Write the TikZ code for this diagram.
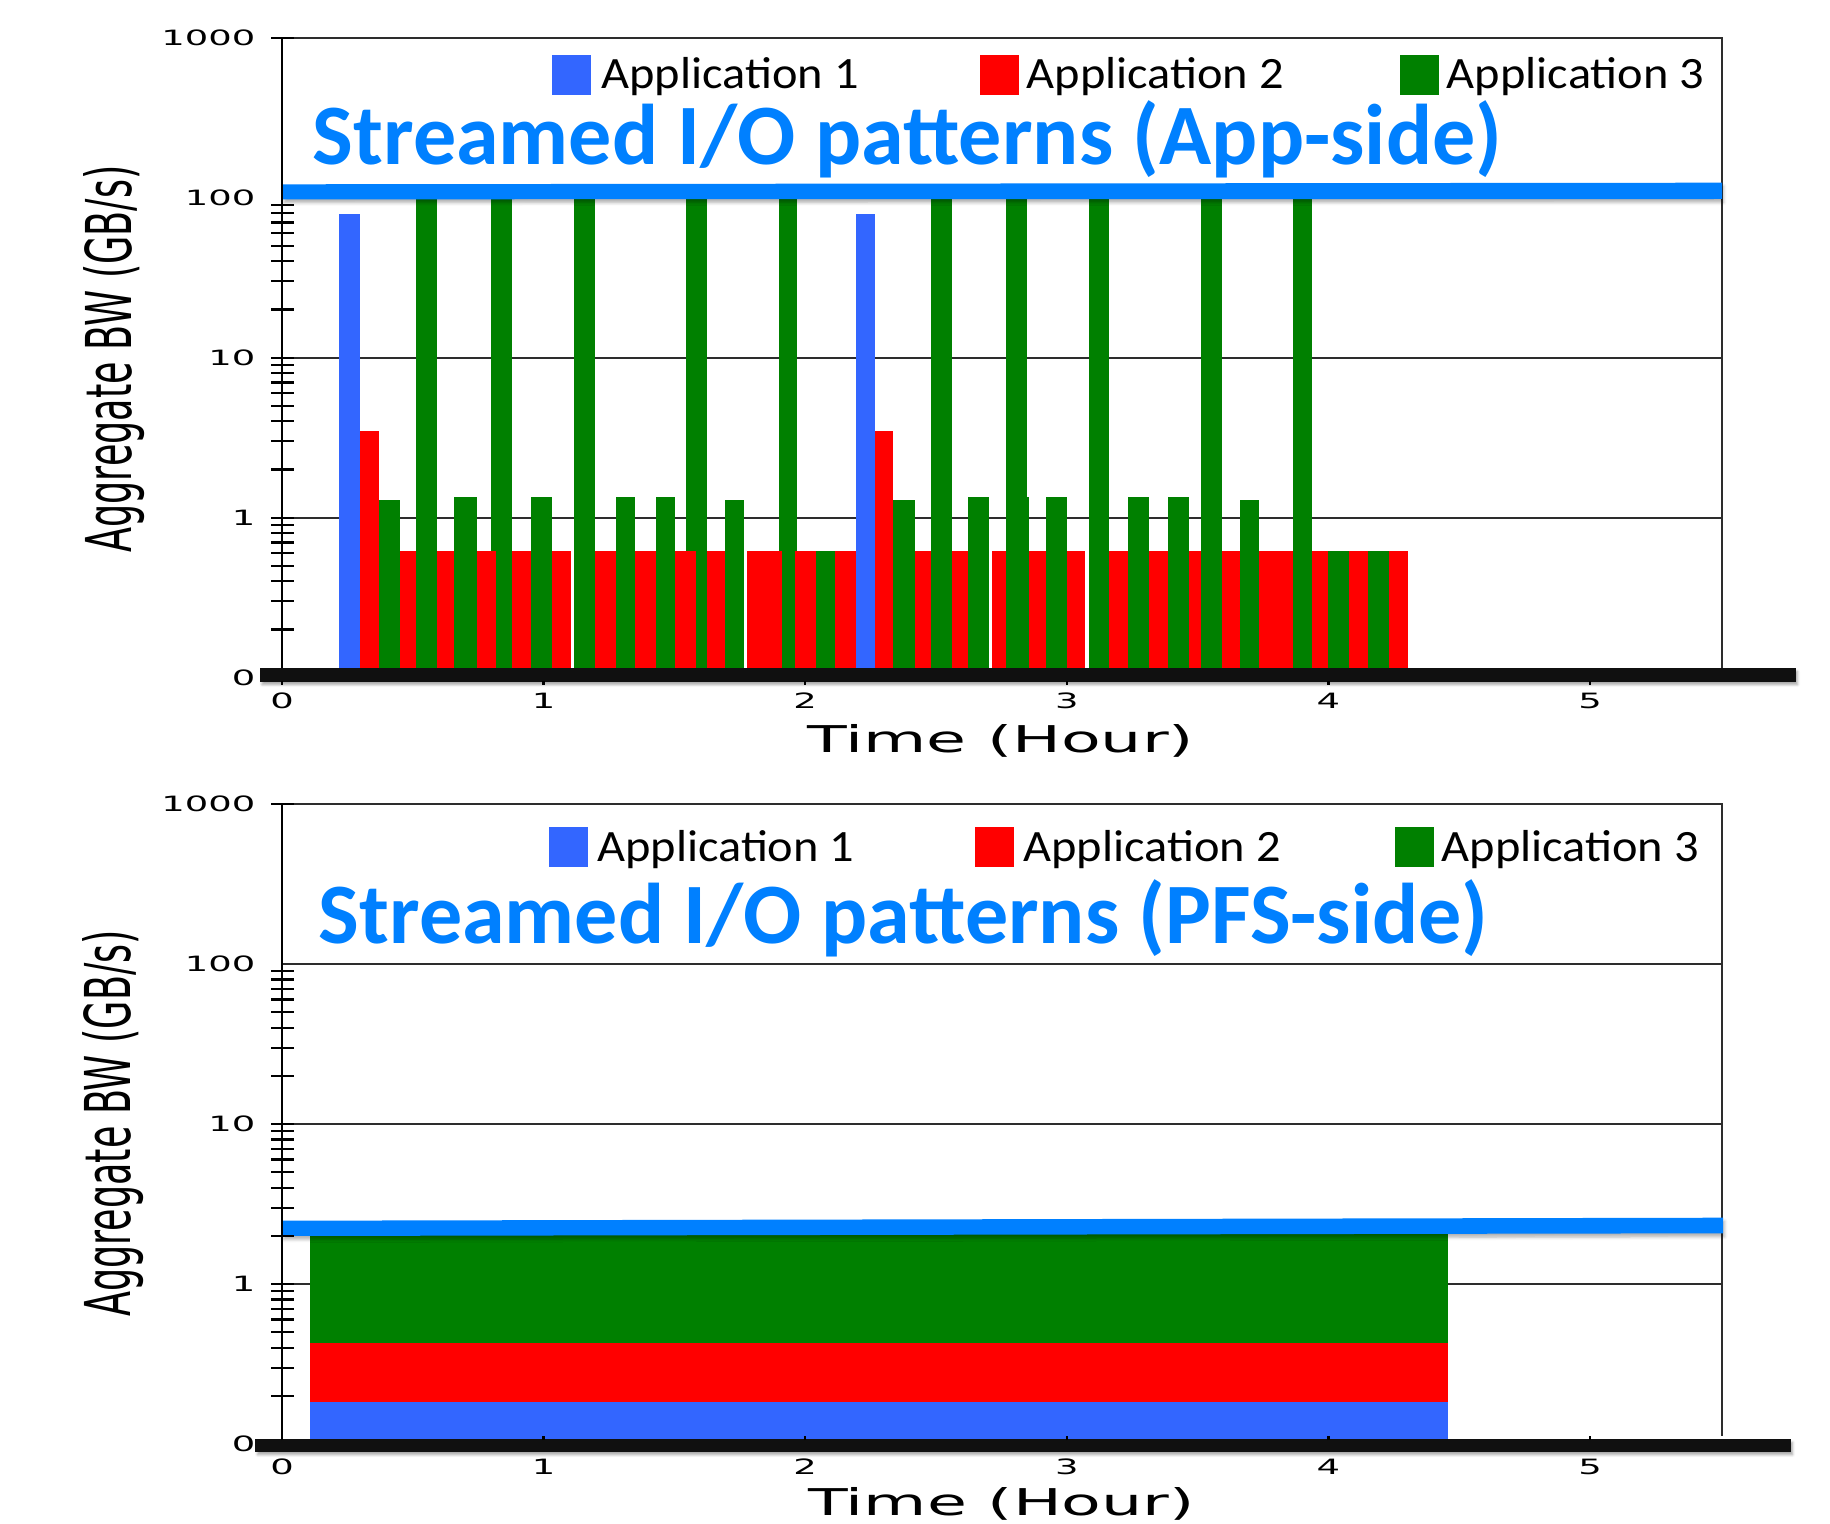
\documentclass[tikz,border=0pt]{standalone}
\usepackage{fontspec}
\usetikzlibrary{positioning,shadows.blur}

\newfontfamily\axisfont{DejaVu Sans}
\newfontfamily\legendfont{Carlito}

\definecolor{appone}{RGB}{51,102,255}
\definecolor{apptwo}{RGB}{255,0,0}
\definecolor{appthree}{RGB}{0,128,0}
\definecolor{streamblue}{RGB}{0,128,255}
\definecolor{axisblack}{RGB}{16,16,16}
\definecolor{gridgray}{RGB}{45,45,45}

% one bar of the App-side chart: colour, left, right, value in GB/s
\newcommand{\iobar}[4]{\fill[#1] (#2,{677.7-160*(log10(#4)+1)}) rectangle (#3,677.7);}

% frame and grid of a log chart, #1 = y of the 0.1 line
\newcommand{\loggrid}[1]{%
    \draw[gridline] (282,{#1-640}) -- (1722,{#1-640}) -- (1722,{#1-8});
    \foreach \d in {1,2,3} \draw[gridline] (282,{#1-160*\d}) -- (1722,{#1-160*\d});
}

% y axis with log ticks and tick labels, #1 = y of the 0.1 line, #2 = name prefix
\newcommand{\logticks}[2]{%
    \draw[tickline] (282,{#1-640}) -- (282,{#1+7});
    \foreach \d in {0,1,2}
        \foreach \m in {1,...,9}
            \draw[tickline] (271,{#1-160*(\d+log10(\m))}) -- (294,{#1-160*(\d+log10(\m))});
    \draw[tickline] (271,{#1-640}) -- (294,{#1-640});
    \foreach \d/\lab in {0/0,1/1,2/10,3/100,4/1000}
        \node[ticklabel, anchor=east] (#2y\d) at (256,{#1-160*\d}) {\lab};
    \foreach \h in {0,...,5}
        \node[ticklabel] (#2x\h) at ({282+261.6*\h},{#1+23}) {\h};
}

\begin{document}
\begin{tikzpicture}[x=0.02cm, y=-0.02cm]
    % Styles
    \tikzstyle{gridline} = [draw=gridgray, line width=0.4mm]
    \tikzstyle{tickline} = [draw=black, line width=0.45mm]
    \tikzstyle{ticklabel} = [font=\axisfont\fontsize{12}{12}\selectfont, xscale=1.75, inner sep=0pt]
    \tikzstyle{axistitle} = [font=\axisfont\fontsize{21}{21}\selectfont, xscale=1.76, inner sep=0pt, anchor=base]
    \tikzstyle{ylabel} = [font=\axisfont\fontsize{20.8}{20.8}\selectfont, rotate=90, yscale=1.73, inner sep=0pt, anchor=base]
    \tikzstyle{keybox} = [rectangle, minimum width=0.78cm, minimum height=0.8cm, inner sep=0pt]
    \tikzstyle{keytext} = [font=\legendfont\fontsize{25.5}{25.5}\selectfont, xscale=1.08, text height=0.56cm, text depth=0pt, inner sep=0pt, anchor=west]
    \tikzstyle{streamtitle} = [font=\legendfont\bfseries\fontsize{49}{49}\selectfont, text=streamblue, inner sep=0pt, anchor=base west]
    \tikzstyle{timeaxis} = [fill=axisblack, blur shadow={shadow xshift=0.4mm, shadow yshift=-0.6mm, shadow blur radius=0.5mm, shadow opacity=35}]
    \tikzstyle{streamline} = [fill=streamblue, blur shadow={shadow xshift=0.3mm, shadow yshift=-0.7mm, shadow blur radius=0.6mm, shadow opacity=30}]

    \useasboundingbox (0,0) rectangle (1830,1524);

    % === TOP CHART: App-side ===
    \loggrid{677.7}

    % Application 3: checkpoint bursts (clipped at 100)
    \foreach \a/\b in {416.3/437.3, 491/512.3, 574/595, 686/706.7, 779.3/797.3,
        931/952.3, 1005.7/1026.7, 1088.7/1109.3, 1200.7/1221.7, 1293.3/1312.3}
        {\iobar{appthree}{\a}{\b}{100}}
    % Application 3: small writes
    \foreach \a/\b/\v in {379/400/1.29, 453.7/477.3/1.34, 531/552.3/1.34, 616.3/635/1.34,
        656/675/1.34, 725.3/744.3/1.29, 893.3/915/1.29, 968.3/989.3/1.34, 1005.7/1029.3/1.34,
        1045.7/1066.7/1.34, 1128.3/1149.3/1.34, 1168.3/1189.3/1.34, 1240.3/1259/1.29,
        816/835/0.62, 1328.3/1349.3/0.62, 1368.3/1389.3/0.62}
        {\iobar{appthree}{\a}{\b}{\v}}
    % Application 2
    \foreach \a/\b in {400/416.3, 437.3/453.7, 477.3/496, 512.3/531, 552.3/570.7, 595/616.3,
        635/656, 675/696, 706.7/725.3, 747.3/781.7, 795/816, 835/856, 915/931, 952.3/968.3,
        992.3/1005.7, 1029.3/1045.7, 1066.7/1085.3, 1109.3/1128.3, 1149.3/1168.3,
        1189.3/1200.7, 1221.7/1240.3, 1259/1293.3, 1312.3/1328.3, 1349.3/1368.3, 1389.3/1408.3}
        {\iobar{apptwo}{\a}{\b}{0.62}}
    \foreach \a/\b in {360/379, 875/893.3}
        {\iobar{apptwo}{\a}{\b}{3.5}}
    % Application 1
    \foreach \a/\b in {339.3/360, 856/875}
        {\iobar{appone}{\a}{\b}{78.7}}

    % streamed level
    \fill[streamline] (282.6,184.3) -- (1722,182.7) -- (1722,199) -- (282.6,199.3) -- cycle;

    \logticks{677.7}{app}
    \fill[timeaxis] (260,668.3) rectangle (1795.5,681.7);
    \foreach \h in {0,...,5} \draw[tickline] ({282+261.6*\h},681) -- ++(0,4);

    % Legend
    \node[keybox, fill=appone] (appkeyone) at (571.8,75) {};
    \node[keytext, right=0.19cm of appkeyone] (appkeyonetxt) {Application 1};
    \node[keybox, fill=apptwo] (appkeytwo) at (999,75) {};
    \node[keytext, right=0.15cm of appkeytwo] (appkeytwotxt) {Application 2};
    \node[keybox, fill=appthree] (appkeythree) at (1419.2,75) {};
    \node[keytext, right=0.15cm of appkeythree] (appkeythreetxt) {Application 3};

    % Labels
    \node[streamtitle] (apptitle) at (312.5,165) {Streamed I/O patterns (App-side)};
    \node[ylabel] (appylabel) at (131.7,359) {Aggregate BW (GB/s)};
    \node[axistitle] (appxlabel) at (1000.8,752) {Time (Hour)};

    % === BOTTOM CHART: PFS-side ===
    \loggrid{1444}

    % stacked streams
    \fill[appone] (310,1401.7) rectangle (1448,1444);
    \fill[apptwo] (310,1342.7) rectangle (1448,1401.7);
    \fill[appthree] (310,1234) rectangle (1448,1342.7);

    % streamed level
    \fill[streamline] (282.4,1220.7) -- (1723,1217.7) -- (1723,1233.3) -- (282.4,1236) -- cycle;

    \logticks{1444}{pfs}
    \fill[timeaxis] (255.4,1439.3) rectangle (1790.6,1451.7);
    \foreach \h in {0,...,5} \draw[tickline] ({282+261.6*\h},1440) -- ++(0,-4);

    % Legend
    \node[keybox, fill=appone] (pfskeyone) at (568,847) {};
    \node[keytext, right=0.18cm of pfskeyone] (pfskeyonetxt) {Application 1};
    \node[keybox, fill=apptwo] (pfskeytwo) at (994.3,847) {};
    \node[keytext, right=0.18cm of pfskeytwo] (pfskeytwotxt) {Application 2};
    \node[keybox, fill=appthree] (pfskeythree) at (1414.4,847) {};
    \node[keytext, right=0.14cm of pfskeythree] (pfskeythreetxt) {Application 3};

    % Labels
    \node[streamtitle] (pfstitle) at (318.6,943.3) {Streamed I/O patterns (PFS-side)};
    \node[ylabel] (pfsylabel) at (130.5,1123.5) {Aggregate BW (GB/s)};
    \node[axistitle] (pfsxlabel) at (1001.5,1515) {Time (Hour)};

\end{tikzpicture}
\end{document}
